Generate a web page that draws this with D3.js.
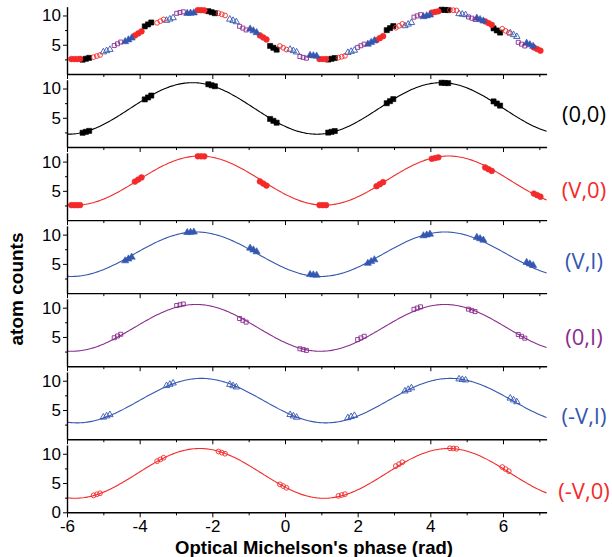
<!DOCTYPE html>
<html><head><meta charset="utf-8">
<script src="https://cdn.jsdelivr.net/npm/d3@7"></script>
<style>
body{margin:0;background:#fff}
svg text{font-family:Arial,"Liberation Sans",sans-serif}
</style>
</head><body>
<svg id="chart" width="612" height="557"></svg>
<script>
// ---------------- data ----------------
const seriesNames = ["(0,0)", "(V,0)", "(V,I)", "(0,I)", "(-V,I)", "(-V,0)"];
const xTicks = [-6, -4, -2, 0, 2, 4, 6];
const xMinorTicks = [-5, -3, -1, 1, 3, 5, 7];
const yTicks = [5, 10];
const yTicksBottom = [0, 5, 10];
const yMinorTicks = [2.5, 7.5];

const s00x = [-5.57,-5.48,-5.39, -3.86,-3.77,-3.68, -2.11,-2.02,-1.93, -0.41,-0.32,-0.23, 1.19,1.28,1.37, 2.8,2.89,2.98, 4.31,4.4,4.49, 5.74,5.83,5.92];
const s00y = [2.44,2.6,2.76, 8.14,8.47,8.8, 10.73,10.56,10.39, 4.8,4.48,4.16, 2.47,2.6,2.73, 7.49,7.84,8.19, 10.98,10.95,10.92, 7.8,7.44,7.08];

const sV0x = [-5.88,-5.8,-5.72,-5.64, -4.13,-4.04,-3.95, -2.4,-2.31,-2.22, -0.69,-0.6,-0.51, 0.95,1.04,1.13, 2.52,2.61,2.7, 4.04,4.13,4.22, 5.51,5.6,5.69, 6.85,6.94,7.03];
const sV0y = [2.56,2.55,2.55,2.57, 6.58,6.93,7.28, 10.91,10.9,10.89, 6.6,6.25,5.9, 2.56,2.55,2.55, 5.79,6.13,6.47, 10.48,10.6,10.72, 8.99,8.7,8.41, 4.53,4.26,3.99];

const sVIx = [-4.4,-4.31,-4.22, -2.69,-2.6,-2.51, -0.96,-0.87,-0.78, 0.69,0.78,0.87, 2.28,2.37,2.46, 3.81,3.9,3.99, 5.28,5.37,5.46, 6.65,6.74,6.83];
const sVIy = [5.53,5.84,6.15, 10.36,10.4,10.44, 7.69,7.38,7.07, 3.18,3.12,3.06, 5.1,5.4,5.7, 9.8,9.94,10.08, 9.54,9.3,9.06, 5.26,5.0,4.74];

const s0Ix = [-4.7,-4.61,-4.52, -2.98,-2.89,-2.8, -1.25,-1.16,-1.07, 0.41,0.5,0.59, 2.0,2.09,2.18, 3.55,3.64,3.73, 5.05,5.14,5.23, 6.42,6.51,6.6];
const s0Iy = [4.86,5.16,5.46, 10.37,10.5,10.63, 8.15,7.84,7.53, 2.98,2.84,2.7, 4.55,4.83,5.11, 9.72,9.93,10.14, 9.75,9.54,9.33, 5.41,5.1,4.79];

const smVIx = [-5.0,-4.91,-4.82, -3.26,-3.17,-3.08, -1.52,-1.43,-1.34, 0.14,0.23,0.32, 1.73,1.82,1.91, 3.3,3.39,3.48, 4.79,4.88,4.97, 6.2,6.29,6.38];
const smVIy = [3.76,3.97,4.18, 9.15,9.37,9.59, 9.35,9.13,8.91, 4.2,3.97,3.74, 3.66,3.85,4.04, 8.23,8.5,8.77, 10.29,10.2,10.11, 7.01,6.7,6.39];

const smV0x = [-5.27,-5.18,-5.09, -3.52,-3.43,-3.34, -1.83,-1.74,-1.65, -0.14,-0.05,0.04, 1.47,1.56,1.65, 3.05,3.14,3.23, 4.54,4.63,4.72, 5.98,6.07,6.16];
const smV0y = [2.89,3.07,3.25, 8.74,9.03,9.32, 10.39,10.2,10.01, 4.78,4.48,4.18, 2.8,2.95,3.1, 7.9,8.23,8.56, 10.94,10.9,10.86, 7.73,7.38,7.03];

// cosine fit parameters (offset + amplitude*cos(2*pi*(x-peak)/period))
const fitOffset = [6.6, 6.75, 6.65, 6.55, 6.6, 6.65];
const fitAmp    = [4.4, 4.2, 3.8, 4.0, 3.8, 4.25];
const fitPeak   = [-2.55, -2.35, -2.45, -2.45, -2.3, -2.35];
const fitPeriod = [6.85, 6.85, 6.85, 6.85, 6.85, 6.85];

// ---------------- styles / layout ----------------
const seriesX = [s00x, sV0x, sVIx, s0Ix, smVIx, smV0x];
const seriesY = [s00y, sV0y, sVIy, s0Iy, smVIy, smV0y];
const colors = ["#000000", "#f42a2a", "#3457b0", "#8a2d8e", "#3457b0", "#f42a2a"];
const symbols = [d3.symbolSquare, d3.symbolCircle, d3.symbolTriangle, d3.symbolSquare, d3.symbolTriangle, d3.symbolCircle];
const symSize = [26, 26, 22, 16, 18, 18];
const filled = [true, true, true, false, false, false];
const labelOffset = [34.3, 31, 32.7, 30.4, 24.3, 22.3];

const svg = d3.select("#chart");
const x = d3.scaleLinear().domain([-6, 7.2]).range([67, 546.6]);
const nPanels = 7, firstBottom = 74, step = 73.05, panelH = 67.3;

function drawSeries(g, y, i) {
  const sym = d3.symbol().type(symbols[i]).size(symSize[i]);
  g.append("g").selectAll("path").data(seriesX[i].map((v, j) => [v, seriesY[i][j]]))
    .join("path")
    .attr("d", sym)
    .attr("transform", d => `translate(${x(d[0])},${y(d[1])})`)
    .attr("fill", filled[i] ? colors[i] : "none")
    .attr("stroke", colors[i])
    .attr("stroke-width", filled[i] ? 0.6 : 0.9);
}

for (let p = 0; p < nPanels; p++) {
  const b = firstBottom + step * p;
  const y = d3.scaleLinear().domain([0, 11.5]).range([b, b - panelH]);
  const g = svg.append("g");
  const last = p === nPanels - 1;

  // fit curve
  if (p > 0) {
    const i = p - 1;
    const xs = d3.range(-6, 7.2001, 0.04);
    const line = d3.line().x(d => x(d)).y(d => y(fitOffset[i] + fitAmp[i] * Math.cos(2 * Math.PI * (d - fitPeak[i]) / fitPeriod[i])));
    g.append("path").attr("d", line(xs)).attr("fill", "none").attr("stroke", colors[i]).attr("stroke-width", 1.1);
    drawSeries(g, y, i);
    g.append("text").attr("x", 584).attr("y", b - labelOffset[i])
      .attr("text-anchor", "middle").attr("dominant-baseline", "central")
      .style("font-family", "'Open Sans', sans-serif").style("font-size", "22px")
      .attr("fill", colors[i]).text(seriesNames[i]);
  } else {
    for (let i = 0; i < seriesNames.length; i++) drawSeries(g, y, i);
  }

  // axes
  g.append("g").attr("transform", `translate(0,${b})`)
    .call(d3.axisBottom(x).tickValues(xTicks).tickSize(5).tickSizeOuter(0).tickPadding(3)
      .tickFormat(last ? (d => String(d)) : () => ""));
  g.append("g").attr("transform", `translate(0,${b})`)
    .call(d3.axisBottom(x).tickValues(xMinorTicks).tickSize(3).tickSizeOuter(0).tickFormat(() => ""))
    .select(".domain").remove();
  g.append("g").attr("transform", `translate(67,0)`)
    .call(d3.axisLeft(y).tickValues(last ? yTicksBottom : yTicks).tickSize(4).tickSizeOuter(0).tickPadding(2)
      .tickFormat(d => String(d)));
  g.append("g").attr("transform", `translate(67,0)`)
    .call(d3.axisLeft(y).tickValues(yMinorTicks).tickSize(2).tickSizeOuter(0).tickFormat(() => ""))
    .select(".domain").remove();
  g.selectAll(".domain").attr("stroke-width", 1.4);
  g.selectAll(".tick line").attr("stroke-width", 1);
  g.selectAll(".tick text").style("font-size", "17px").attr("fill", "#000");
}

svg.append("text").attr("x", 314).attr("y", 554)
  .attr("text-anchor", "middle").style("font-weight", "bold").style("font-size", "18.5px")
  .text("Optical Michelson's phase (rad)");
svg.append("text").attr("transform", "translate(23,289) rotate(-90)")
  .attr("text-anchor", "middle").style("font-weight", "bold").style("font-size", "19px")
  .text("atom counts");
</script>
</body></html>
